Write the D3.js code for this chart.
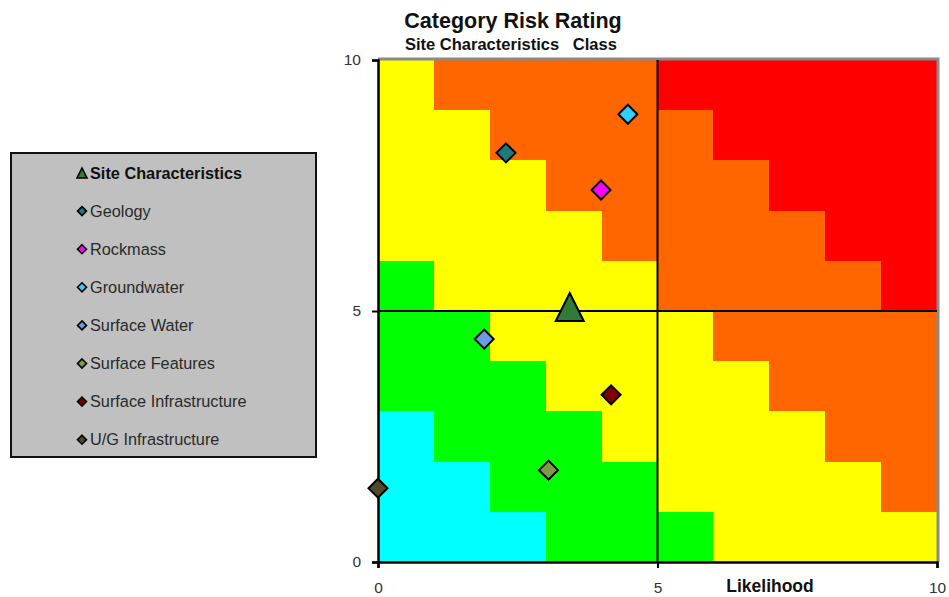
<!DOCTYPE html>
<html>
<head>
<meta charset="utf-8">
<script src="https://cdn.jsdelivr.net/npm/d3@7"></script>
<style>
    body { margin: 0; background: #fff; }
    text { font-family: "Liberation Sans", Arial, sans-serif; }
</style>
</head>
<body>
<div id="chart"></div>
<script>
// --- Data ---
const xTicks = [0, 5, 10];
const yTicks = [0, 5, 10];

// risk level per 1x1 cell, rows from top (y 9-10) down to bottom (y 0-1)
const riskColors = ["#00FFFF", "#00FF00", "#FFFF00", "#FF6600", "#FF0000"];
const riskGrid = [
    [2, 3, 3, 3, 3, 4, 4, 4, 4, 4],
    [2, 2, 3, 3, 3, 3, 4, 4, 4, 4],
    [2, 2, 2, 3, 3, 3, 3, 4, 4, 4],
    [2, 2, 2, 2, 3, 3, 3, 3, 4, 4],
    [1, 2, 2, 2, 2, 3, 3, 3, 3, 4],
    [1, 1, 2, 2, 2, 2, 3, 3, 3, 3],
    [1, 1, 1, 2, 2, 2, 2, 3, 3, 3],
    [0, 1, 1, 1, 2, 2, 2, 2, 3, 3],
    [0, 0, 1, 1, 1, 2, 2, 2, 2, 3],
    [0, 0, 0, 1, 1, 1, 2, 2, 2, 2]
];

const seriesNames = ["Site Characteristics", "Geology", "Rockmass", "Groundwater",
    "Surface Water", "Surface Features", "Surface Infrastructure", "U/G Infrastructure"];
const seriesX = [3.43, 2.29, 3.99, 4.47, 1.90, 3.05, 4.17, 0.00];
const seriesY = [5.08, 8.15, 7.41, 8.92, 4.44, 1.83, 3.33, 1.47];
const seriesColors = ["#317B38", "#1E7B7B", "#FF00FF", "#33CCFF",
    "#6A9BE3", "#7F9A45", "#800000", "#4F4A2E"];
const seriesShapes = ["triangle", "diamond", "diamond", "diamond",
    "diamond", "diamond", "diamond", "diamond"];

// --- Layout ---
const W = 949, H = 597;
const plot = { left: 378, right: 937, top: 60, bottom: 562 };
const FONT = "'Liberation Sans', Arial, sans-serif";

const svg = d3.select("#chart").append("svg")
    .attr("width", W)
    .attr("height", H);

const x = d3.scaleLinear().domain([0, 10]).range([plot.left, plot.right]);
const y = d3.scaleLinear().domain([0, 10]).range([plot.bottom, plot.top]);

// marker path centred on 0,0
function shapePath(shape, r) {
    const p = d3.path();
    if (shape === "triangle") {
        p.moveTo(0, -r);
        p.lineTo(r, r);
        p.lineTo(-r, r);
    } else {
        p.moveTo(0, -r);
        p.lineTo(r, 0);
        p.lineTo(0, r);
        p.lineTo(-r, 0);
    }
    p.closePath();
    return p.toString();
}

// --- Risk cells ---
const cells = [];
riskGrid.forEach((row, r) => {
    row.forEach((level, c) => {
        cells.push({ col: c, row: 9 - r, level });
    });
});

svg.append("g")
    .attr("shape-rendering", "crispEdges")
    .selectAll("rect")
    .data(cells)
    .join("rect")
    .attr("x", d => Math.round(x(d.col)))
    .attr("y", d => Math.round(y(d.row + 1)))
    .attr("width", d => Math.round(x(d.col + 1)) - Math.round(x(d.col)))
    .attr("height", d => Math.round(y(d.row)) - Math.round(y(d.row + 1)))
    .attr("fill", d => riskColors[d.level]);

// plot area border (top + right, grey)
svg.append("path")
    .attr("d", `M${plot.left},${plot.top - 1}H${plot.right + 1}V${plot.bottom}`)
    .attr("fill", "none")
    .attr("stroke", "#8a8a8a")
    .attr("stroke-width", 3);

// quadrant lines
svg.append("line")
    .attr("x1", x(5)).attr("x2", x(5))
    .attr("y1", plot.top).attr("y2", plot.bottom)
    .attr("stroke", "#000").attr("stroke-width", 2);
svg.append("line")
    .attr("x1", plot.left).attr("x2", plot.right)
    .attr("y1", y(5)).attr("y2", y(5))
    .attr("stroke", "#000").attr("stroke-width", 2);

// --- Axes ---
const yAxis = d3.axisLeft(y).tickValues(yTicks).tickSize(6).tickPadding(11);
const xAxis = d3.axisBottom(x).tickValues(xTicks).tickSize(6).tickPadding(14);

const gY = svg.append("g")
    .attr("transform", `translate(${plot.left},0)`)
    .call(yAxis);
const gX = svg.append("g")
    .attr("transform", `translate(0,${plot.bottom})`)
    .call(xAxis);

[gX, gY].forEach(g => {
    g.select(".domain").attr("stroke", "#000").attr("stroke-width", 2.5);
    g.selectAll(".tick line").attr("stroke", "#000").attr("stroke-width", 2);
    g.selectAll(".tick text")
        .attr("fill", "#333")
        .style("font-size", "15.5px")
        .style("font-family", FONT);
});

svg.append("text")
    .attr("x", 770).attr("y", 592)
    .attr("text-anchor", "middle")
    .style("font-size", "17.5px").style("font-weight", "bold")
    .attr("fill", "#111")
    .text("Likelihood");

// --- Markers ---
const points = seriesNames.map((name, i) => ({
    name, x: seriesX[i], y: seriesY[i], color: seriesColors[i], shape: seriesShapes[i]
}));

svg.append("g").selectAll("path")
    .data(points.slice().reverse())
    .join("path")
    .attr("transform", d => `translate(${x(d.x)},${y(d.y)})`)
    .attr("d", d => shapePath(d.shape, d.shape === "triangle" ? 14 : 9.5))
    .attr("fill", d => d.color)
    .attr("stroke", "#000")
    .attr("stroke-width", 2)
    .attr("stroke-linejoin", "miter");

// --- Titles ---
svg.append("text")
    .attr("x", 513).attr("y", 28)
    .attr("text-anchor", "middle")
    .style("font-size", "21.5px").style("font-weight", "bold")
    .attr("fill", "#111")
    .text("Category Risk Rating");
svg.append("text")
    .attr("x", 405).attr("y", 50)
    .attr("xml:space", "preserve")
    .style("white-space", "pre")
    .style("font-size", "16.5px").style("font-weight", "bold")
    .attr("fill", "#111")
    .text("Site Characteristics   Class");

// --- Legend ---
const legend = svg.append("g");
legend.append("rect")
    .attr("x", 11).attr("y", 153)
    .attr("width", 305).attr("height", 304)
    .attr("fill", "#C0C0C0")
    .attr("stroke", "#111")
    .attr("stroke-width", 2);

const item = legend.selectAll("g.item")
    .data(points)
    .join("g")
    .attr("class", "item")
    .attr("transform", (d, i) => `translate(82,${173 + i * 38.1})`);

item.append("path")
    .attr("d", d => shapePath(d.shape, d.shape === "triangle" ? 5 : 4.5))
    .attr("fill", d => d.color)
    .attr("stroke", "#000")
    .attr("stroke-width", 1.6);

item.append("text")
    .attr("x", 8).attr("y", 5.5)
    .style("font-size", "16.3px")
    .style("font-weight", (d, i) => i === 0 ? "bold" : "normal")
    .attr("fill", (d, i) => i === 0 ? "#111" : "#2a2a2a")
    .text(d => d.name);
</script>
</body>
</html>
